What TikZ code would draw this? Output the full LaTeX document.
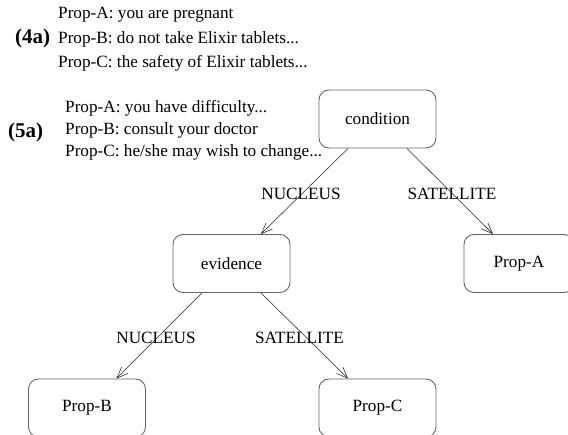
\documentclass[tikz,border=0pt]{standalone}
\usepackage{fontspec}
\setmainfont{Liberation Serif}
\usetikzlibrary{arrows.meta,calc}
\begin{document}
\begin{tikzpicture}[x=1pt,y=-1pt,
 box/.style={draw=black!60, line width=0.9pt, rounded corners=10pt, minimum width=117pt, minimum height=58pt, inner sep=0pt, font=\fontsize{17.2}{20}\selectfont},
 txt/.style={anchor=base west, inner sep=0pt, font=\fontsize{17.2}{20}\selectfont},
 lab/.style={anchor=base, inner sep=0pt, font=\fontsize{17.2}{20}\selectfont},
 tag/.style={anchor=base west, inner sep=0pt, font=\fontsize{21}{24}\selectfont\bfseries},
 rel/.style={draw=black!85, line width=0.55pt, -{Straight Barb[length=11pt,width=9pt,line width=0.55pt]}}]
\useasboundingbox (0,0) rectangle (568,435);
\begin{scope}
\clip (0,0) rectangle (568,435);
\node[box] (cond) at (377.5,119) {condition};
\node[box] (evid) at (231.5,263.5) {evidence};
\node[box, minimum width=110pt] (pa) at (519,263.5) {Prop-A};
\node[box] (pb) at (87,408) {Prop-B};
\node[box] (pc) at (377.5,408) {Prop-C};

\draw[rel] ($(cond.south west)!0.25!(cond.south east)$) -- ($(evid.north west)!0.75!(evid.north east)$);
\draw[rel] ($(cond.south west)!0.75!(cond.south east)$) -- ($(pa.north west)!0.265!(pa.north east)$);
\draw[rel] ($(evid.south west)!0.25!(evid.south east)$) -- ($(pb.north west)!0.75!(pb.north east)$);
\draw[rel] ($(evid.south west)!0.75!(evid.south east)$) -- ($(pc.north west)!0.25!(pc.north east)$);

\node[lab] (l1) at (301,200) {NUCLEUS};
\node[lab] (l2) at (452,200) {SATELLITE};
\node[lab] (l3) at (156,344) {NUCLEUS};
\node[lab] (l4) at (299.5,344) {SATELLITE};

\node[tag] (t4) at (15,44) {(4a)};
\node[txt] (a4) at (58,18.5) {Prop-A: you are pregnant};
\node[txt] (b4) at (58,43.5) {Prop-B: do not take Elixir tablets...};
\node[txt] (c4) at (58,68) {Prop-C: the safety of Elixir tablets...};
\node[tag] (t5) at (8,138) {(5a)};
\node[txt] (a5) at (65,113) {Prop-A: you have difficulty...};
\node[txt] (b5) at (65,135) {Prop-B: consult your doctor};
\node[txt] (c5) at (65,157) {Prop-C: he/she may wish to change...};
\end{scope}
\end{tikzpicture}
\end{document}
